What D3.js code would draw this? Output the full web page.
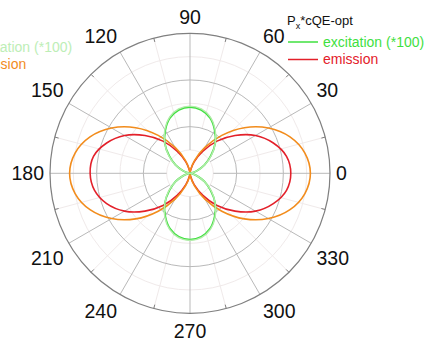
<!DOCTYPE html>
<html>
<head>
<meta charset="utf-8">
<script src="https://cdn.jsdelivr.net/npm/d3@7"></script>
<style>
  html, body { margin: 0; padding: 0; background: #fff; }
  svg { display: block; font-family: "Liberation Sans", Arial, sans-serif; }
</style>
</head>
<body>
<svg id="chart" width="434" height="345"></svg>
<script>
// Angles (degrees) at which each pattern is sampled
const angles = [0,10,20,30,40,50,60,70,80,90,100,110,120,130,140,150,160,170,
                180,190,200,210,220,230,240,250,260,270,280,290,300,310,320,330,340,350];

// P_x * cQE-opt patterns
const emissionOpt   = [1.08,1.05,0.95,0.81,0.63,0.45,0.27,0.13,0.03,0.00,0.03,0.13,0.27,0.45,0.63,0.81,0.95,1.05,
                       1.07,1.04,0.95,0.81,0.63,0.45,0.27,0.13,0.03,0.00,0.03,0.13,0.27,0.45,0.63,0.81,0.95,1.05];
const excitationOpt = [0.00,0.02,0.08,0.18,0.29,0.42,0.53,0.63,0.69,0.71,0.69,0.63,0.53,0.42,0.29,0.18,0.08,0.02,
                       0.00,0.02,0.08,0.18,0.29,0.42,0.53,0.63,0.69,0.71,0.69,0.63,0.53,0.42,0.29,0.18,0.08,0.02];

// Second set of patterns
const emissionB     = [1.29,1.25,1.14,0.97,0.76,0.53,0.32,0.15,0.04,0.00,0.04,0.15,0.32,0.53,0.76,0.97,1.14,1.25,
                       1.29,1.25,1.14,0.97,0.76,0.53,0.32,0.15,0.04,0.00,0.04,0.15,0.32,0.53,0.76,0.97,1.14,1.25];
const excitationB   = [0.00,0.02,0.08,0.18,0.30,0.42,0.54,0.64,0.70,0.72,0.70,0.64,0.54,0.42,0.30,0.18,0.08,0.02,
                       0.00,0.02,0.08,0.18,0.30,0.42,0.54,0.64,0.70,0.72,0.70,0.64,0.54,0.42,0.30,0.18,0.08,0.02];

// Angular tick labels and radial grid levels
const thetaLabels = [0,30,60,90,120,150,180,210,240,270,300,330];
const minorThetas = [15,45,75,105,135,165,195,225,255,285,315,345];
const rMajor = [0.5, 1.0];
const rMinor = [0.25, 0.75, 1.25];
const rMax = 1.5;

const legendTitle = ["P", "x", "*cQE-opt"];
const legendA = [{ name: "excitation (*100)", color: "#3fe03f" }, { name: "emission", color: "#e3202a" }];
const legendB = [{ name: "excitation (*100)", color: "#b3ecaa", text: "#bdeeb6" }, { name: "emission", color: "#f28c1c" }];

const svg = d3.select("#chart");
const cx = 190, cy = 173.3, R = 140;
const g = svg.append("g").attr("transform", `translate(${cx},${cy})`);

const r = d3.scaleLinear().domain([0, rMax]).range([0, R]);
// degrees, counter-clockwise from the +x axis -> d3 radial angle (clockwise from 12 o'clock)
const a = d3.scaleLinear().domain([0, 360]).range([Math.PI / 2, Math.PI / 2 - 2 * Math.PI]);
const px = (deg, v) => Math.sin(a(deg)) * r(v);
const py = (deg, v) => -Math.cos(a(deg)) * r(v);

// minor grid
g.selectAll("circle.minor").data(rMinor).join("circle")
  .attr("r", d => r(d)).attr("fill", "none").attr("stroke", "#f0eaea").attr("stroke-width", 1);
g.selectAll("line.minor").data(minorThetas).join("line")
  .attr("x1", d => px(d, 0.5)).attr("y1", d => py(d, 0.5))
  .attr("x2", d => px(d, rMax)).attr("y2", d => py(d, rMax))
  .attr("stroke", "#f0eaea").attr("stroke-width", 1);

// major grid
g.selectAll("circle.major").data(rMajor).join("circle")
  .attr("r", d => r(d)).attr("fill", "none").attr("stroke", "#b9b9b9").attr("stroke-width", 1);
g.selectAll("line.major").data(thetaLabels).join("line")
  .attr("x1", d => px(d, 0.25)).attr("y1", d => py(d, 0.25))
  .attr("x2", d => px(d, rMax)).attr("y2", d => py(d, rMax))
  .attr("stroke", "#b9b9b9").attr("stroke-width", 1);

// outer ring and ticks
g.append("circle").attr("r", r(rMax)).attr("fill", "none").attr("stroke", "#808080").attr("stroke-width", 1.2);
g.selectAll("line.tick").data(minorThetas).join("line")
  .attr("x1", d => px(d, rMax)).attr("y1", d => py(d, rMax))
  .attr("x2", d => px(d, rMax) * (R - 4) / R).attr("y2", d => py(d, rMax) * (R - 4) / R)
  .attr("stroke", "#808080").attr("stroke-width", 1);

// angle labels
const labR = R + 6;
g.selectAll("text.theta").data(thetaLabels).join("text")
  .attr("x", d => Math.cos(d * Math.PI / 180) * labR)
  .attr("y", d => {
    const s = Math.sin(d * Math.PI / 180);
    const y = -s * labR;
    if (s > 0.1) return y - 3.5;
    if (s < -0.1) return y + 18.5;
    return y + 7;
  })
  .attr("text-anchor", d => {
    const c = Math.cos(d * Math.PI / 180);
    return c > 0.1 ? "start" : (c < -0.1 ? "end" : "middle");
  })
  .attr("font-size", 19.5).attr("fill", "#111")
  .text(d => d);

// patterns
const radial = d3.lineRadial()
  .angle((d, i) => a(angles[i]))
  .radius(d => r(d))
  .curve(d3.curveCatmullRomClosed.alpha(0.5));

const series = [
  { values: emissionOpt, color: "#e3202a", width: 1.6 },
  { values: emissionB, color: "#f28c1c", width: 1.6 },
  { values: excitationOpt, color: "#3fe03f", width: 1.8 },
  { values: excitationB, color: "#b3ecaa", width: 1.4 }
];
g.selectAll("path.series").data(series).join("path")
  .attr("d", d => radial(d.values))
  .attr("fill", "none")
  .attr("stroke", d => d.color)
  .attr("stroke-width", d => d.width);

// legends
function drawLegend(x0, y0, items, title) {
  const lg = svg.append("g").attr("transform", `translate(${x0},${y0})`);
  if (title) {
    const t = lg.append("text").attr("x", -1).attr("y", -17).attr("font-size", 13).attr("fill", "#111");
    t.append("tspan").text(title[0]);
    t.append("tspan").attr("font-size", 9).attr("dy", 4).text(title[1]);
    t.append("tspan").attr("dy", -4).text(title[2]);
  }
  items.forEach((it, i) => {
    const y = i * 17.5;
    lg.append("line").attr("x1", 0).attr("x2", 30).attr("y1", y).attr("y2", y)
      .attr("stroke", it.color).attr("stroke-width", 1.5);
    lg.append("text").attr("x", 35).attr("y", y).attr("dy", "0.35em")
      .attr("font-size", 14).attr("fill", it.text || it.color).text(it.name);
  });
}
drawLegend(288, 42, legendA, legendTitle);
drawLegend(-64, 47, legendB, null);
</script>
</body>
</html>
